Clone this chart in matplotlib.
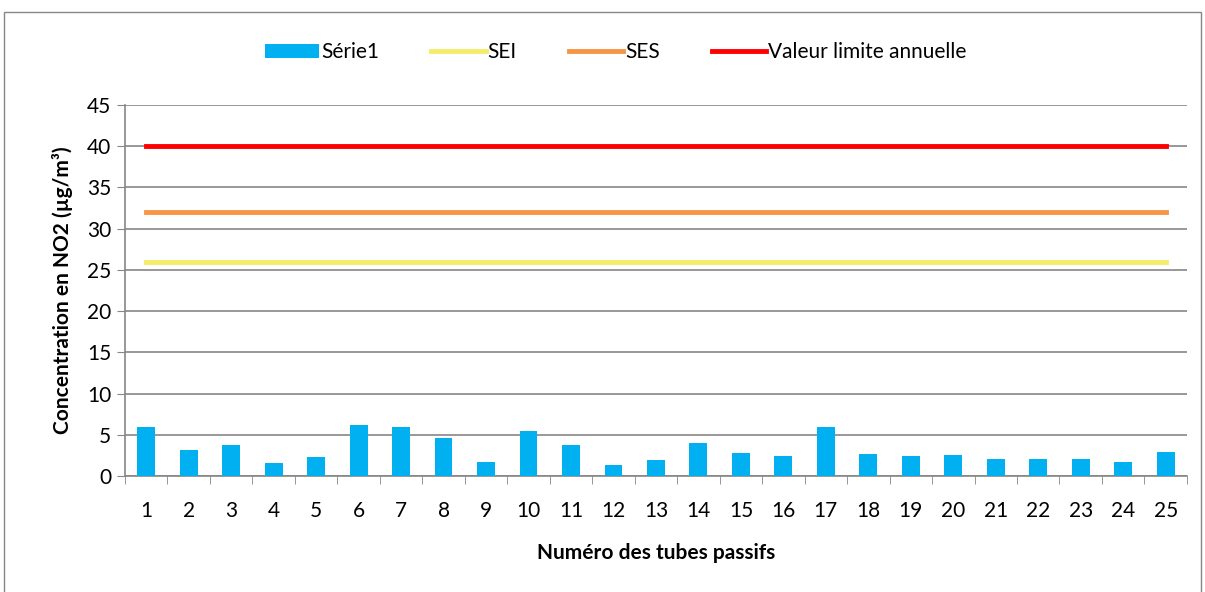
import numpy as np
import matplotlib.pyplot as plt
from matplotlib.patches import Rectangle

plt.rcParams['font.family'] = ['Lato', 'DejaVu Sans']

tubes = [str(i) for i in range(1, 26)]
serie1 = [6.0, 3.1, 3.7, 1.6, 2.3, 6.2, 5.9, 4.6, 1.7, 5.4, 3.8, 1.3, 1.9,
          3.95, 2.8, 2.4, 5.95, 2.65, 2.4, 2.5, 2.1, 2.1, 2.0, 1.7, 2.9]
sei = [26] * 25
ses = [32] * 25
valeur_limite = [40] * 25

fig = plt.figure(figsize=(12.05, 5.92), dpi=100)
fig.patches.append(Rectangle((0.003, -0.01), 0.994, 0.99, transform=fig.transFigure,
                             fill=False, edgecolor='#868686', linewidth=1))
ax = fig.add_axes([0.1037, 0.196, 0.8813, 0.6266])

x = np.arange(1, 26)
b = ax.bar(x, serie1, width=0.42, color='#00b0f0', label='Série1', zorder=3)
l1, = ax.plot(x, sei, color='#f6ec6b', linewidth=3.5, label='SEI', zorder=4)
l2, = ax.plot(x, ses, color='#f79646', linewidth=3.5, label='SES', zorder=4)
l3, = ax.plot(x, valeur_limite, color='#ff0000', linewidth=3.5, label='Valeur limite annuelle', zorder=4)

ax.set_xlim(0.5, 25.5)
ax.set_ylim(0, 45)
ax.set_yticks(range(0, 46, 5))
ax.set_xticks(x)
ax.set_xticklabels(tubes)
ax.set_xticks(np.arange(0.5, 25.6, 1), minor=True)
ax.tick_params(axis='x', which='major', length=0, labelsize=15, pad=18)
ax.tick_params(axis='x', which='minor', length=6, color='#868686')
ax.tick_params(axis='y', length=6, color='#868686', labelsize=15, pad=4)
ax.yaxis.grid(True, color='#868686', linewidth=1.2)
ax.set_axisbelow(True)
for s in ['top', 'right']:
    ax.spines[s].set_visible(False)
ax.spines['left'].set_color('#868686')
ax.spines['bottom'].set_color('#868686')
ax.spines['left'].set_linewidth(1.2)
ax.spines['bottom'].set_linewidth(1.2)

ax.set_xlabel('Numéro des tubes passifs', fontsize=15, fontweight='bold', labelpad=16)
ax.set_ylabel('Concentration en NO2 (µg/m³)', fontsize=15, fontweight='bold', labelpad=10)

ax.legend([b, l1, l2, l3], ['Série1', 'SEI', 'SES', 'Valeur limite annuelle'],
          loc='center', bbox_to_anchor=(0.511, 0.912), bbox_transform=fig.transFigure,
          ncol=4, frameon=False, fontsize=15, handlelength=2.6, handletextpad=0.1,
          columnspacing=2.5)

fig.savefig('out.png', dpi=100)
